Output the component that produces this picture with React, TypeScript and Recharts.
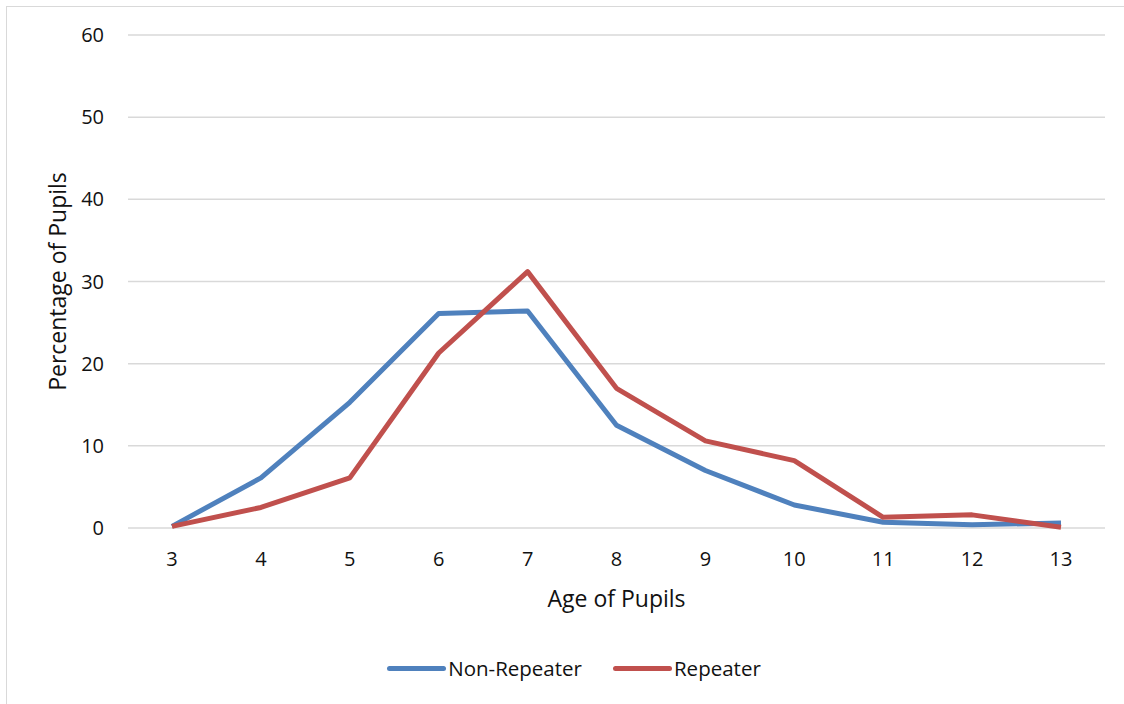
import { CartesianGrid, Legend, Line, LineChart, XAxis, YAxis } from "recharts";

const ages = ["3", "4", "5", "6", "7", "8", "9", "10", "11", "12", "13"];
const nonRepeater = [0.2, 6.1, 15.3, 26.1, 26.4, 12.5, 7.0, 2.8, 0.7, 0.4, 0.6];
const repeater = [0.2, 2.5, 6.1, 21.3, 31.2, 17.0, 10.6, 8.2, 1.3, 1.6, 0.1];
const yTicks = [0, 10, 20, 30, 40, 50, 60];

const data = ages.map((age, i) => ({
    age,
    nonRepeater: nonRepeater[i],
    repeater: repeater[i],
}));

const FONT = "'Open Sans', 'Noto Sans', sans-serif";
const BLUE = "#4F81BD";
const RED = "#C0504D";
const INK = "#111";

function LegendContent() {
    const items = [
        { name: "Non-Repeater", color: BLUE },
        { name: "Repeater", color: RED },
    ];
    return (
        <div style={{ display: "flex", justifyContent: "center", paddingLeft: 24, fontFamily: FONT, fontSize: 20.5, color: INK, lineHeight: "27px" }}>
            {items.map((it, i) => (
                <div key={it.name} style={{ display: "flex", alignItems: "center", marginLeft: i ? 31 : 0 }}>
                    <span style={{ display: "inline-block", width: 59, height: 5, borderRadius: 3, background: it.color, marginRight: 2 }} />
                    <span>{it.name}</span>
                </div>
            ))}
        </div>
    );
}

export default function App() {
    return (
        <div style={{ position: "relative", width: 1124, height: 704, overflow: "hidden", background: "#fff" }}>
            <style>{"body{margin:0}"}</style>
            <div style={{ position: "absolute", left: 6, top: 6, width: 1140, height: 720, border: "1.5px solid #d9d9d9" }} />
            <LineChart width={1124} height={704} data={data} margin={{ top: 35, right: 19, left: 0, bottom: 96 }}>
                <CartesianGrid vertical={false} stroke="#d9d9d9" strokeWidth={1.5} />
                <XAxis
                    dataKey="age"
                    height={80}
                    padding={{ left: 44, right: 44 }}
                    axisLine={false}
                    tickLine={false}
                    tickSize={0}
                    tickMargin={24}
                    tick={{ fontSize: 20, fill: INK, fontFamily: FONT }}
                    label={{ value: "Age of Pupils", position: "insideBottom", offset: 1, fontSize: 23, fill: INK, fontFamily: FONT }}
                />
                <YAxis
                    width={128}
                    domain={[0, 60]}
                    ticks={yTicks}
                    axisLine={false}
                    tickLine={false}
                    tickSize={0}
                    tickMargin={24}
                    tick={{ fontSize: 20, fill: INK, fontFamily: FONT }}
                    label={{ value: "Percentage of Pupils", position: "center", angle: -90, dx: -6, fontSize: 23, fill: INK, fontFamily: FONT }}
                />
                <Legend verticalAlign="middle" content={LegendContent} wrapperStyle={{ top: 655, left: 0, width: 1124 }} />
                <Line type="linear" dataKey="nonRepeater" name="Non-Repeater" stroke={BLUE} strokeWidth={5} strokeLinejoin="round" dot={false} isAnimationActive={false} />
                <Line type="linear" dataKey="repeater" name="Repeater" stroke={RED} strokeWidth={5} strokeLinejoin="round" dot={false} isAnimationActive={false} />
            </LineChart>
        </div>
    );
}
